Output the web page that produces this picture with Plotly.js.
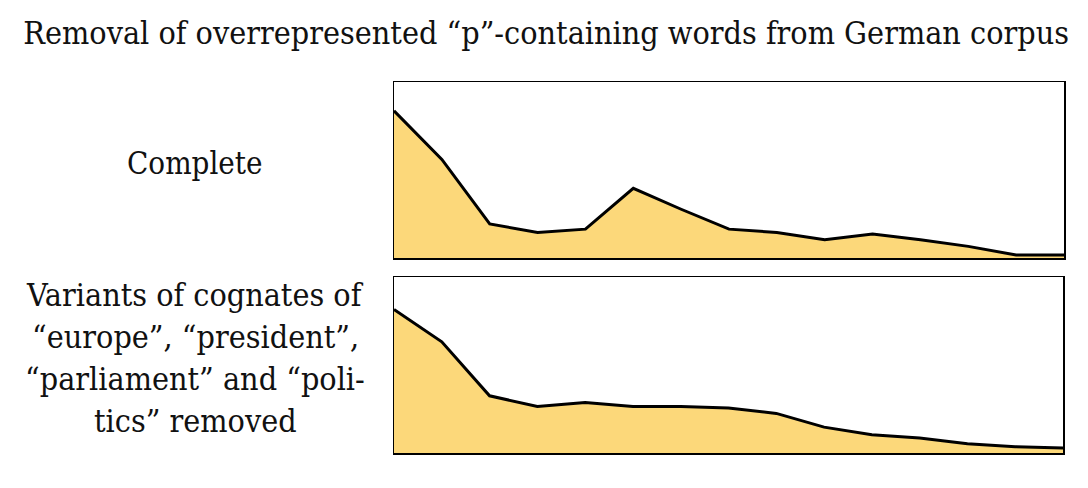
<!DOCTYPE html>
<html>
<head>
<meta charset="utf-8">
<script src="https://cdn.plot.ly/plotly-3.0.1.min.js"></script>
<style>html,body{margin:0;padding:0;background:#fff;}#chart{width:1088px;height:488px;}</style>
</head>
<body>
<div id="chart"></div>
<script>
// Rank positions (x) and relative frequencies (y, arbitrary units)
const ranks = [0,1,2,3,4,5,6,7,8,9,10,11,12,13,14];
const completeValues = [83.6,56.0,19.4,14.5,16.4,39.6,27.7,16.4,14.5,10.4,13.6,10.4,6.6,1.7,1.7];
const removedValues  = [81.5,63.2,32.5,26.4,28.7,26.4,26.4,25.5,22.5,14.7,10.4,8.5,5.3,3.6,2.8];
const titleText = "Removal of overrepresented “p”-containing words from German corpus";
const topLabel = ["Complete"];
const bottomLabel = ["Variants of cognates of", "“europe”, “president”,", "“parliament” and “poli-", "tics” removed"];

const FONT = "'DejaVu Serif Condensed', 'DejaVu Serif', serif";
const fill = "rgb(252,216,122)";

function trace(y, xa, ya) {
  return {x: ranks, y: y, xaxis: xa, yaxis: ya, type: 'scatter', mode: 'lines',
    fill: 'tozeroy', fillcolor: fill, line: {color: '#000', width: 3}, hoverinfo: 'none', showlegend: false};
}

const axisCommon = {showline: true, mirror: true, linecolor: '#000', linewidth: 1.5,
  showgrid: false, zeroline: false, showticklabels: false, ticks: '', fixedrange: true};

const annotations = [];
topLabel.forEach((t, i) => annotations.push({text: t, x: 195, y: 163,
  font: {family: FONT, size: 31, color: '#111'}}));
bottomLabel.forEach((t, i) => annotations.push({text: t, x: 195, y: 295 + i * 42,
  font: {family: FONT, size: 32, color: '#111'}}));
// convert pixel positions to paper coords
annotations.forEach(a => { a.showarrow = false; a.xref = 'paper'; a.yref = 'paper'; a.x = a.x / 1088; a.y = 1 - a.y / 488; a.xanchor = 'center'; a.yanchor = 'middle'; });

const layout = {
  width: 1088, height: 488,
  margin: {l: 0, r: 0, t: 0, b: 0},
  paper_bgcolor: '#fff', plot_bgcolor: '#fff',
  title: {text: titleText, x: 0.502, xanchor: 'center', y: 1 - 33/488, yanchor: 'middle', yref: 'container',
    font: {family: FONT, size: 32, color: '#111'}},
  xaxis: Object.assign({}, axisCommon, {domain: [394/1088, 1064/1088], range: [0, 14], anchor: 'y'}),
  yaxis: Object.assign({}, axisCommon, {domain: [1 - 258/488, 1 - 82/488], range: [0, 100], anchor: 'x'}),
  xaxis2: Object.assign({}, axisCommon, {domain: [394/1088, 1063/1088], range: [0, 14], anchor: 'y2'}),
  yaxis2: Object.assign({}, axisCommon, {domain: [1 - 453/488, 1 - 277/488], range: [0, 100], anchor: 'x2'}),
  annotations: annotations
};

Plotly.newPlot('chart', [trace(completeValues, 'x', 'y'), trace(removedValues, 'x2', 'y2')], layout,
  {staticPlot: true, displayModeBar: false});
</script>
</body>
</html>
